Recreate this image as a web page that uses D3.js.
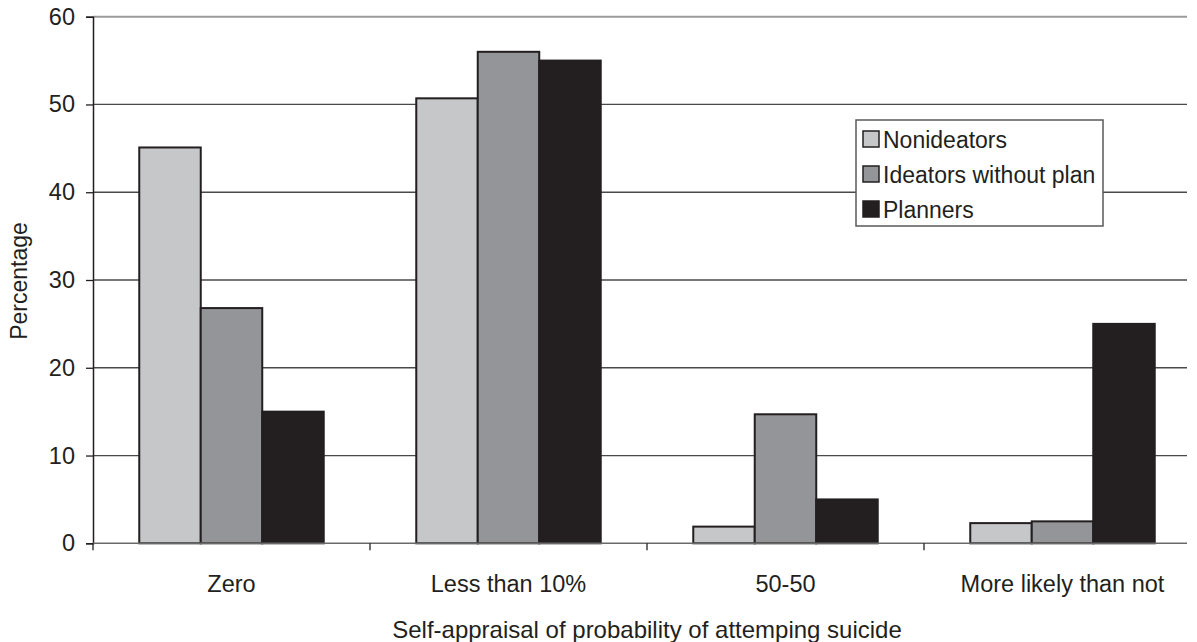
<!DOCTYPE html>
<html>
<head>
<meta charset="utf-8">
<script src="https://cdn.jsdelivr.net/npm/d3@7"></script>
<style>
  body { margin: 0; background: #fff; }
  text { font-family: "Liberation Sans", Arial, sans-serif; fill: #231f20; }
</style>
</head>
<body>
<svg id="lienzo" width="1197" height="642"></svg>
<script>
// datos
const categorias = ['Zero', 'Less than 10%', '50-50', 'More likely than not'];
const series = ['Nonideators', 'Ideators without plan', 'Planners'];
const nonideators = [45.1, 50.7, 1.9, 2.3];
const ideadores = [26.8, 56.0, 14.7, 2.5];
const planificadores = [15.0, 55.0, 5.0, 25.0];
const valoresY = [0, 10, 20, 30, 40, 50, 60];
const colores = ['#c6c7c9', '#949598', '#231f20'];

const valores = [nonideators, ideadores, planificadores];

const svg = d3.select('#lienzo');
const izq = 93, der = 1201, arriba = 16.7, abajo = 543.3, finGrid = 1187;

const x0 = d3.scaleBand()
    .domain(categorias)
    .range([izq, der])
    .paddingInner(0.334)
    .paddingOuter(0.167);

const x1 = d3.scaleBand()
    .domain(series)
    .range([0, x0.bandwidth()]);

const y = d3.scaleLinear()
    .domain([0, 60])
    .range([abajo, arriba]);

// líneas de la cuadrícula
svg.selectAll('line.grid')
    .data(valoresY.filter(v => v > 0))
    .enter()
    .append('line')
    .attr('class', 'grid')
    .attr('x1', izq)
    .attr('x2', finGrid)
    .attr('y1', d => y(d))
    .attr('y2', d => y(d))
    .attr('stroke', d => d === 60 ? '#9a9a9a' : '#4a4a4a')
    .attr('stroke-width', d => d === 60 ? 2 : 1.3);

// eje Y
const ejeY = svg.append('g')
    .attr('transform', `translate(${izq},0)`)
    .call(d3.axisLeft(y).tickValues(valoresY).tickSize(7).tickPadding(11));
ejeY.select('.domain').attr('stroke', '#231f20').attr('stroke-width', 1.5);
ejeY.selectAll('.tick line').attr('stroke', '#231f20').attr('stroke-width', 1.3);
ejeY.selectAll('.tick text')
    .attr('font-size', '23.5px')
    .attr('font-family', '"Liberation Sans", Arial, sans-serif')
    .attr('fill', '#231f20');

// barras
const grupos = svg.selectAll('g.grupo')
    .data(categorias)
    .enter()
    .append('g')
    .attr('class', 'grupo')
    .attr('transform', d => `translate(${x0(d)},0)`);

grupos.selectAll('rect')
    .data((d, i) => series.map((s, j) => ({ serie: s, valor: valores[j][i], j: j })))
    .enter()
    .append('rect')
    .attr('x', d => x1(d.serie))
    .attr('y', d => y(d.valor))
    .attr('width', x1.bandwidth())
    .attr('height', d => abajo - y(d.valor))
    .attr('fill', d => colores[d.j])
    .attr('stroke', '#231f20')
    .attr('stroke-width', 2);

// eje X (línea base y marcas)
svg.append('line')
    .attr('x1', izq).attr('x2', finGrid)
    .attr('y1', abajo).attr('y2', abajo)
    .attr('stroke', '#6a6a6a').attr('stroke-width', 1.5);

svg.selectAll('line.marca')
    .data(categorias)
    .enter()
    .append('line')
    .attr('class', 'marca')
    .attr('x1', d => x0(d) - x0.step() * x0.paddingInner() / 2)
    .attr('x2', d => x0(d) - x0.step() * x0.paddingInner() / 2)
    .attr('y1', abajo)
    .attr('y2', abajo + 7)
    .attr('stroke', '#231f20')
    .attr('stroke-width', 1.3);

svg.selectAll('text.categoria')
    .data(categorias)
    .enter()
    .append('text')
    .attr('class', 'categoria')
    .attr('x', d => x0(d) + x0.bandwidth() / 2)
    .attr('y', 592)
    .attr('text-anchor', 'middle')
    .attr('font-size', '23.5px')
    .text(d => d);

// títulos de ejes
svg.append('text')
    .attr('x', 647)
    .attr('y', 638)
    .attr('text-anchor', 'middle')
    .attr('font-size', '24px')
    .text('Self-appraisal of probability of attemping suicide');

svg.append('text')
    .attr('transform', 'translate(27,281) rotate(-90)')
    .attr('text-anchor', 'middle')
    .attr('font-size', '23px')
    .text('Percentage');

// leyenda
const leyenda = svg.append('g').attr('transform', 'translate(856,120)');
leyenda.append('rect')
    .attr('width', 247)
    .attr('height', 106)
    .attr('fill', '#fff')
    .attr('stroke', '#5a5a5a')
    .attr('stroke-width', 1.5);

const filas = leyenda.selectAll('g.fila')
    .data(series)
    .enter()
    .append('g')
    .attr('class', 'fila')
    .attr('transform', (d, i) => `translate(7,${11 + i * 35})`);

filas.append('rect')
    .attr('width', 16)
    .attr('height', 16)
    .attr('fill', (d, i) => colores[i])
    .attr('stroke', '#231f20')
    .attr('stroke-width', 1.5);

filas.append('text')
    .attr('x', 20)
    .attr('y', 17)
    .attr('font-size', '23px')
    .text(d => d);
</script>
</body>
</html>
